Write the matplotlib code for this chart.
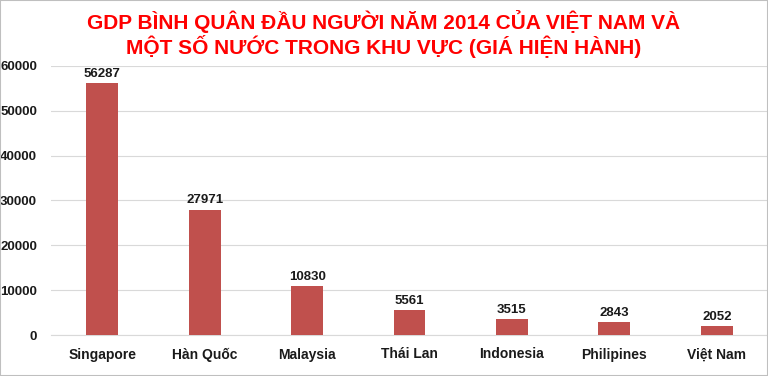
import matplotlib
matplotlib.use("Agg")
import matplotlib.pyplot as plt
from matplotlib.patches import Rectangle

categories = ["Singapore", "Hàn Quốc", "Malaysia", "Thái Lan", "Indonesia", "Philipines", "Việt Nam"]
values = [56287, 27971, 10830, 5561, 3515, 2843, 2052]
yticks = [0, 10000, 20000, 30000, 40000, 50000, 60000]
title = "GDP BÌNH QUÂN ĐẦU NGƯỜI NĂM 2014 CỦA VIỆT NAM VÀ\nMỘT SỐ NƯỚC TRONG KHU VỰC (GIÁ HIỆN HÀNH)"

plt.rcParams['font.family'] = ['Liberation Sans', 'DejaVu Sans']

W, H = 768, 376
fig = plt.figure(figsize=(W/100, H/100), dpi=100)
ax = fig.add_axes([51/W, 41/H, 717/W, 269/H])

x = range(len(categories))
bars = ax.bar(x, values, width=0.31, color="#C0504D", zorder=3)
for xi, v in zip(x, values):
    ax.text(xi, v + 700, str(v), ha="center", va="bottom", fontsize=9.5, fontweight="bold", color="#1a1a1a")

ax.set_xlim(-0.5, len(categories) - 0.5)
ax.set_ylim(0, 60000)
ax.set_yticks(yticks)
ax.set_yticklabels([str(t) for t in yticks], fontsize=9.5, fontweight="bold", color="#1a1a1a")
ax.set_xticks(list(x))
ax.set_xticklabels(categories, fontsize=10, fontweight="bold", color="#1a1a1a")
ax.tick_params(axis="both", length=0)
ax.tick_params(axis="x", pad=9)
ax.tick_params(axis="y", pad=10)
ax.grid(axis="y", color="#d9d9d9", linewidth=0.8, zorder=0)
for s in ["top", "right", "left"]:
    ax.spines[s].set_visible(False)
ax.spines["bottom"].set_color("#d9d9d9")

fig.text(0.5, 1 - 34/H, title, ha="center", va="center", fontsize=15, fontweight="bold",
         color="#FF0000", linespacing=1.15)

fig.patches.append(Rectangle((0, 0), 1, 1, transform=fig.transFigure, fill=False,
                             edgecolor="#bfbfbf", linewidth=1.5))

fig.savefig("out.png", dpi=100)
